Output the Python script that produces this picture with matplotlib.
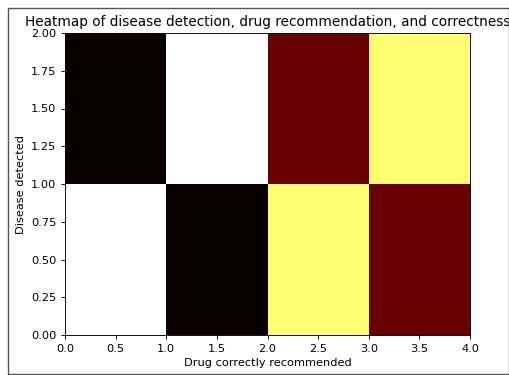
import matplotlib
import numpy as np

matplotlib.use("Agg")

from matplotlib import pyplot as plt  # noqa: E402
from matplotlib.patches import Rectangle  # noqa: E402

# cell values, rows = disease detected (0, 1), columns = drug bins
x_edges = [0, 1, 2, 3, 4]
y_edges = [0, 1, 2]
values = np.array([
    [7, 0, 6, 1],
    [0, 7, 1, 6],
])

title = "Heatmap of disease detection, drug recommendation, and correctness"
xlabel = "Drug correctly recommended"
ylabel = "Disease detected"

W, H = 509, 375
scale = 0.816
plt.rcParams["font.size"] = 10 * scale
plt.rcParams["axes.linewidth"] = 0.8 * scale
plt.rcParams["xtick.major.size"] = 3.5 * scale
plt.rcParams["ytick.major.size"] = 3.5 * scale
plt.rcParams["xtick.major.width"] = 0.8 * scale
plt.rcParams["ytick.major.width"] = 0.8 * scale

fig = plt.figure(figsize=(W / 100, H / 100), dpi=100)
ax = fig.add_axes([65 / W, 1 - 335 / H, (470 - 65) / W, (335 - 33) / H])

ax.pcolormesh(x_edges, y_edges, values, cmap="hot", vmin=0, vmax=7)
ax.set_title(title, fontsize=12 * scale, pad=6 * scale)
ax.set_xlabel(xlabel, labelpad=4 * scale)
ax.set_ylabel(ylabel, labelpad=4 * scale)

# screenshot frame
fig.add_artist(Rectangle((7.5 / W, 1 - 373.5 / H), (W - 7) / W, 366 / H,
                         transform=fig.transFigure, fill=False,
                         edgecolor="#555555", linewidth=1.0))

plt.savefig("out.png", dpi=100)
plt.close(fig)
